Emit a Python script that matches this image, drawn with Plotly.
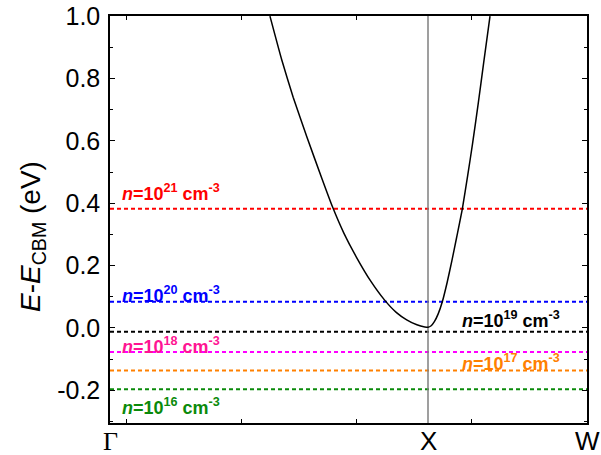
import plotly.graph_objects as go

# =========================================
# k-path positions (Gamma - X - W)
k_labels = ["Γ", "X", "W"]
k_pos = [0.0, 1.0, 1.5]
k_minor = [0.0525, 0.414, 0.776, 1.137, 1.499]

# energy axis ticks
e_ticks = [-0.2, 0.0, 0.2, 0.4, 0.6, 0.8, 1.0]
e_tick_text = ["-0.2", "0.0", "0.2", "0.4", "0.6", "0.8", "1.0"]

# conduction band near X
k_band = [0.503, 0.54, 0.576, 0.62, 0.666, 0.699, 0.735, 0.776, 0.82, 0.863,
          0.90, 0.933, 0.965, 0.99, 1.0, 1.01, 1.02, 1.032, 1.045, 1.06,
          1.075, 1.09, 1.108, 1.125, 1.14, 1.158, 1.175, 1.195]
e_band = [1.0, 0.86, 0.74, 0.61, 0.48, 0.39, 0.305, 0.225, 0.15, 0.09,
          0.05, 0.026, 0.01, 0.003, 0.002, 0.007, 0.02, 0.045, 0.084, 0.145,
          0.215, 0.29, 0.382, 0.49, 0.59, 0.72, 0.85, 1.0]

# Fermi levels for each carrier density
n_exp = [21, 20, 19, 18, 17, 16]
e_fermi = [0.382, 0.084, -0.012, -0.077, -0.137, -0.197]
line_colors = ["#ff0000", "#0000ff", "#000000", "#ff00ff", "#ff8000", "#0a8a0a"]
text_colors = ["#ff0000", "#0000ff", "#000000", "#ff1493", "#ff8000", "#0a8a0a"]
label_side = ["left", "left", "right", "left", "right", "left"]
label_y = [0.433, 0.106, 0.026, -0.055, -0.112, -0.253]

y_range = [-0.305, 1.0005]
FONT = "Liberation Sans, Arial"

# =========================================
fig = go.Figure()

# Fermi level lines
for e, c in zip(e_fermi, line_colors):
    fig.add_trace(go.Scatter(x=[k_pos[0], k_pos[-1]], y=[e, e], mode="lines",
                             line=dict(color=c, width=2, dash="4px,3px"),
                             showlegend=False, hoverinfo="skip"))

# X point marker line
fig.add_trace(go.Scatter(x=[k_pos[1], k_pos[1]], y=y_range, mode="lines",
                         line=dict(color="#7f7f7f", width=1.5),
                         showlegend=False, hoverinfo="skip"))

# band
fig.add_trace(go.Scatter(x=k_band, y=e_band, mode="lines",
                         line=dict(color="black", width=1.5, shape="spline", smoothing=0.5),
                         showlegend=False))

# carrier density labels
for n, c, side, y in zip(n_exp, text_colors, label_side, label_y):
    fig.add_annotation(
        x=0.031 if side == "left" else 1.10, y=y, xref="x", yref="y",
        xanchor="left", yanchor="middle", showarrow=False,
        text="<b><i>n</i>=10<sup>%d</sup> cm<sup>-3</sup></b>" % n,
        font=dict(family=FONT, size=18, color=c))

# k-point labels under the axis
for lab, k in zip(k_labels, k_pos):
    fam = "Liberation Serif, Times New Roman" if lab == "Γ" else FONT
    fig.add_annotation(
        x=k, y=0, xref="x", yref="paper", yshift=-18, showarrow=False,
        xanchor="center", yanchor="middle", text=lab, borderpad=0,
        font=dict(family=fam, size=26, color="black"))

# y axis title
fig.add_annotation(
    x=-0.1635, y=0.457, xref="paper", yref="paper", textangle=-90,
    showarrow=False, xanchor="center", yanchor="middle",
    text="<i>E</i>-<i>E</i><sub>CBM</sub> (eV)",
    font=dict(family=FONT, size=28, color="black"))

fig.update_xaxes(
    range=[k_pos[0], k_pos[-1]], tickmode="array", tickvals=k_minor,
    showticklabels=False, ticks="inside", ticklen=4, tickcolor="black",
    showgrid=False, zeroline=False, automargin=False,
    showline=True, linecolor="black", linewidth=1.5, mirror="ticks",
)
fig.update_yaxes(
    range=y_range, tickmode="array", tickvals=e_ticks, ticktext=e_tick_text,
    ticks="inside", ticklen=5, tickcolor="black", showgrid=False, zeroline=False,
    showline=True, linecolor="black", linewidth=1.5, mirror="ticks", automargin=False,
    ticklabelstandoff=3,
    tickfont=dict(family=FONT, size=25, color="black"),
    minor=dict(tickmode="linear", tick0=0, dtick=0.1, ticks="inside", ticklen=3,
               tickcolor="black", showgrid=False),
)

fig.update_layout(
    width=601, height=455,
    margin=dict(l=110, r=14, t=16, b=32),
    paper_bgcolor="white", plot_bgcolor="white",
)

# drop the default page margin so the figure sits at the window's corner
fig.write_html("out.html", config={"displayModeBar": False},
               post_script="document.body.style.margin='0px';")
